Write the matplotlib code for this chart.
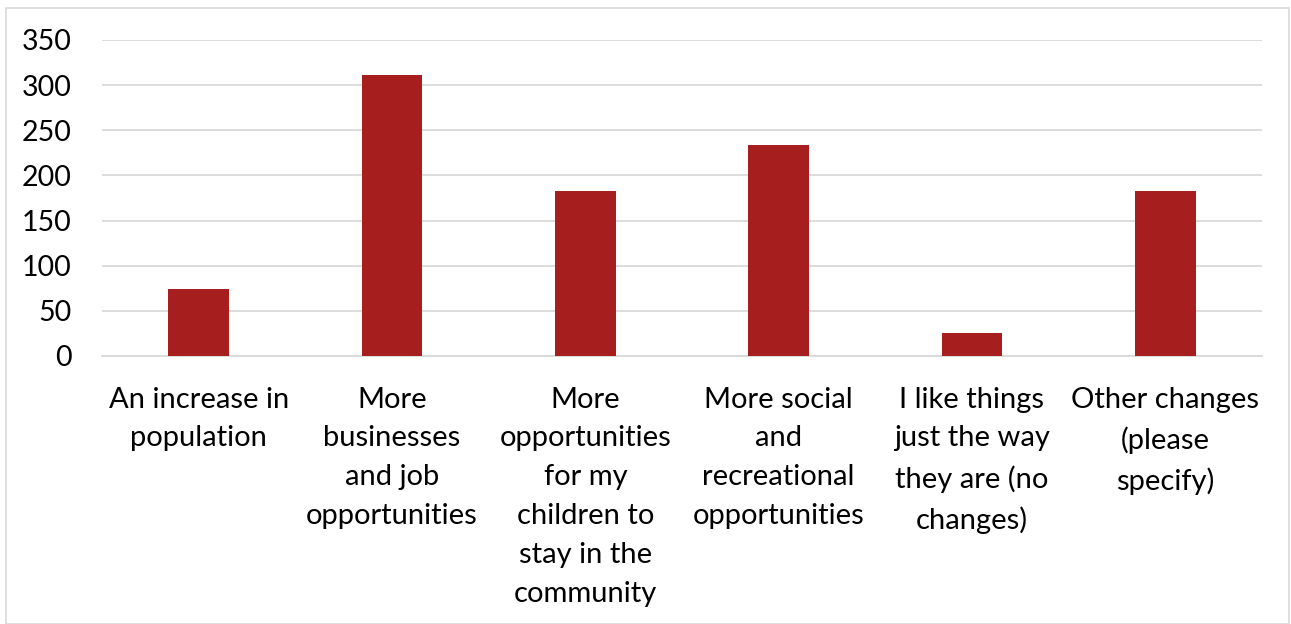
import matplotlib
matplotlib.use("Agg")
import matplotlib.pyplot as plt
from matplotlib.patches import Rectangle

categories = [
    "An increase in\npopulation",
    "More\nbusinesses\nand job\nopportunities",
    "More\nopportunities\nfor my\nchildren to\nstay in the\ncommunity",
    "More social\nand\nrecreational\nopportunities",
    "I like things\njust the way\nthey are (no\nchanges)",
    "Other changes\n(please\nspecify)",
]
counts = [74, 311, 183, 234, 26, 183]
y_ticks = [0, 50, 100, 150, 200, 250, 300, 350]

plt.rcParams["font.family"] = ["Lato", "DejaVu Sans"]

W, H = 1291, 624
fig = plt.figure(figsize=(W / 100, H / 100), dpi=100)
ax = fig.add_axes([102 / W, 1 - 356 / H, 1160 / W, 316 / H])

x = list(range(len(categories)))
ax.bar(x, counts, width=0.315, color="#A61E1E", zorder=3)

ax.set_xlim(-0.5, len(categories) - 0.5)
ax.set_ylim(0, 350)
ax.set_yticks(y_ticks)
ax.set_yticklabels([str(v) for v in y_ticks], fontsize=20.5)
ax.set_xticks(x)
ax.set_xticklabels(categories, fontsize=21, linespacing=1.61, va="top")
ax.tick_params(axis="both", length=0, colors="black")
ax.tick_params(axis="x", pad=22)
ax.tick_params(axis="y", pad=22)

ax.grid(axis="y", color="#D9D9D9", linewidth=1.3, zorder=0)
for s in ("top", "right", "left"):
    ax.spines[s].set_visible(False)
ax.spines["bottom"].set_color("#D9D9D9")
ax.spines["bottom"].set_linewidth(1.3)

# chart frame
fig.patches.append(Rectangle((6 / W, 0), 1 - 8 / W, 1 - 8 / H,
                             transform=fig.transFigure, fill=False,
                             edgecolor="#D9D9D9", linewidth=1.2))

fig.savefig("out.png", dpi=100)
